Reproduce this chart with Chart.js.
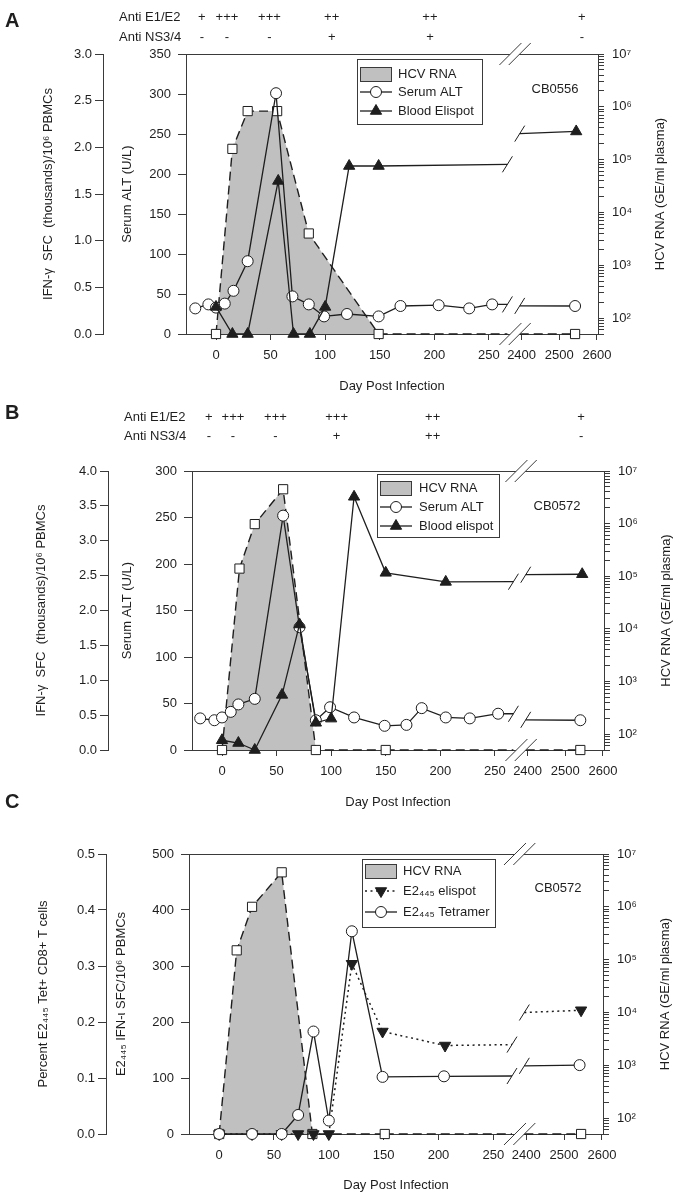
<!DOCTYPE html>
<html lang="en">
<head>
<meta charset="utf-8">
<title>HCV RNA, ALT and ELISPOT after infection</title>
<script src="https://cdn.jsdelivr.net/npm/chart.js@4.4.1/dist/chart.umd.min.js"></script>
<style>
  html, body { margin: 0; padding: 0; background: #fff; }
  body { position: relative; width: 681px; height: 1199px; overflow: hidden; }
  canvas { position: absolute; left: 0; }
</style>
</head>
<body>
<canvas id="chartA" width="681" height="400" style="top:0px"></canvas>
<canvas id="chartB" width="681" height="420" style="top:395px"></canvas>
<canvas id="chartC" width="681" height="414" style="top:785px"></canvas>
<script>
// x axis, day post infection (broken between day 267 and day 2395)
const xTickDays = [0, 50, 100, 150, 200, 250, 2400, 2500, 2600];
const xTickLabels = ['0', '50', '100', '150', '200', '250', '2400', '2500', '2600'];

// HCV RNA axis range (GE/ml plasma)
const rnaMin = 50;
const rnaMax = 1e7;

// Panel A - CB0556
const aRnaDays = [0, 15, 29, 56, 85, 149, 2542];
const aRnaValues = [50, 1.6e5, 8.3e5, 8.3e5, 4.0e3, 50, 50];
const aAltDays = [-19, -7, 0, 8, 16, 29, 55, 70, 85, 99, 120, 149, 169, 204, 232, 253, 2542];
const aAltValues = [32, 37, 33, 38, 54, 91, 301, 47, 37, 22, 25, 22, 35, 36, 32, 37, 35];
const aElispotDays = [0, 15, 29, 57, 71, 86, 100, 122, 149, 2545];
const aElispotValues = [0.29, 0, 0, 1.64, 0, 0, 0.29, 1.80, 1.80, 2.17];
const aAntiDays = [-13, 10, 49, 106, 196, 2560];
const aAntiE1E2 = ['+', '+++', '+++', '++', '++', '+'];
const aAntiNS34 = ['-', '-', '-', '+', '+', '-'];

// Panel B - CB0572
const bRnaDays = [0, 16, 30, 56, 86, 150, 2540];
const bRnaValues = [50, 1.4e5, 9.8e5, 4.5e6, 50, 50, 50];
const bAltDays = [-20, -7, 0, 8, 15, 30, 56, 71, 86, 99, 121, 149, 169, 183, 205, 227, 253, 2540];
const bAltValues = [34, 32, 35, 41, 49, 55, 252, 132, 32, 46, 35, 26, 27, 45, 35, 34, 39, 32];
const bElispotDays = [0, 15, 30, 55, 71, 86, 100, 121, 150, 205, 2545];
const bElispotValues = [0.14, 0.10, 0, 0.79, 1.80, 0.39, 0.45, 3.63, 2.54, 2.41, 2.52];
const bAntiDays = [-12, 10, 49, 105, 193, 2542];
const bAntiE1E2 = ['+', '+++', '+++', '+++', '++', '+'];
const bAntiNS34 = ['-', '-', '-', '+', '++', '-'];

// Panel C - CB0572, E2 445 epitope
const cRnaDays = [0, 16, 30, 57, 85, 151, 2545];
const cRnaValues = [50, 1.5e5, 1.0e6, 4.5e6, 50, 50, 50];
const cElispotDays = [0, 30, 57, 72, 86, 100, 121, 149, 206, 2545];
const cElispotValues = [0, 0, 0, 0, 0, 0, 304, 183, 158, 221];
const cTetDays = [0, 30, 57, 72, 86, 100, 121, 149, 205, 2541];
const cTetValues = [0, 0, 0, 0.034, 0.183, 0.024, 0.362, 0.102, 0.103, 0.123];

const FONT = "'Liberation Sans', Arial, Helvetica, sans-serif";
const INK = '#1e1e1e';
const AXIS = '#3a3a3a';
const GREY = '#c0c0c0';

Chart.defaults.font.family = FONT;
Chart.defaults.font.size = 13;
Chart.defaults.color = INK;

// broken axis: days up to BREAK_LO plotted as-is, late days squeezed after the gap
const BREAK_LO = 267;
const BREAK_HI = 2395;
function toAxis(day) {
  return day <= BREAK_LO ? day : 280 + (day - 2400) * 0.345;
}
function crossesBreak(days, i, j) {
  return days[i] <= BREAK_LO && days[j] >= BREAK_HI;
}

const SUP = '⁰¹²³⁴⁵⁶⁷⁸⁹';
function powerLabel(v) {
  const e = Math.log10(v);
  if (Math.abs(e - Math.round(e)) > 1e-9) return '';
  return '10' + String(Math.round(e)).split('').map(c => SUP[+c]).join('');
}

function series(label, days, values, axis, style) {
  return Object.assign({
    label: label,
    days: days,
    yAxisID: axis,
    data: days.map((d, i) => ({ x: toAxis(d), y: values[i] })),
    borderColor: INK,
    borderWidth: 1.3,
    borderDash: [],
    pointBorderColor: INK,
    pointBorderWidth: 1,
    pointBackgroundColor: '#fff',
    fill: false,
    clip: false,
    tension: 0,
    segment: {
      borderColor: c => crossesBreak(days, c.p0DataIndex, c.p1DataIndex) ? 'rgba(0,0,0,0)' : undefined
    }
  }, style);
}

const rnaStyle = { fill: 'start', backgroundColor: GREY, borderDash: [9, 5], borderWidth: 1.4,
  pointStyle: 'rect', pointRadius: 6.5, order: 2, breakMarks: false };
const circleStyle = { pointStyle: 'circle', pointRadius: 5.5, order: 1 };
const triStyle = { pointStyle: 'triangle', pointRadius: 6.5, pointBackgroundColor: INK, order: 0 };

// line pieces either side of the break, linear in real days
function drawBrokenSegments(chart) {
  const ctx = chart.ctx;
  chart.data.datasets.forEach((ds, di) => {
    const meta = chart.getDatasetMeta(di);
    const days = ds.days;
    for (let i = 0; i < days.length - 1; i++) {
      if (!crossesBreak(days, i, i + 1)) continue;
      const d0 = days[i], d1 = days[i + 1];
      const v0 = ds.data[i].y, v1 = ds.data[i + 1].y;
      const at = d => v0 + (v1 - v0) * (d - d0) / (d1 - d0);
      const xs = meta.xScale, ys = meta.yScale;
      const p0 = meta.data[i], p1 = meta.data[i + 1];
      const lo = { x: xs.getPixelForValue(toAxis(BREAK_LO)), y: ys.getPixelForValue(at(BREAK_LO)) };
      const hi = { x: xs.getPixelForValue(toAxis(BREAK_HI)), y: ys.getPixelForValue(at(BREAK_HI)) };
      ctx.save();
      ctx.strokeStyle = ds.borderColor;
      ctx.lineWidth = ds.borderWidth;
      ctx.setLineDash(ds.borderDash || []);
      ctx.beginPath();
      ctx.moveTo(p0.x, p0.y); ctx.lineTo(lo.x, lo.y);
      ctx.moveTo(hi.x, hi.y); ctx.lineTo(p1.x, p1.y);
      ctx.stroke();
      if (ds.breakMarks !== false) {
        ctx.setLineDash([]);
        ctx.lineWidth = 1;
        [lo, hi].forEach(q => {
          ctx.beginPath(); ctx.moveTo(q.x - 5, q.y + 8); ctx.lineTo(q.x + 5, q.y - 8); ctx.stroke();
        });
      }
      ctx.restore();
    }
  });
}

function drawAxisBreak(ctx, xa, xb, y) {
  ctx.save();
  ctx.fillStyle = '#fff';
  ctx.beginPath();
  ctx.moveTo(xa - 3, y + 3); ctx.lineTo(xa + 3, y - 3);
  ctx.lineTo(xb + 3, y - 3); ctx.lineTo(xb - 3, y + 3);
  ctx.closePath(); ctx.fill();
  ctx.strokeStyle = AXIS; ctx.lineWidth = 1;
  [xa, xb].forEach(x => {
    ctx.beginPath(); ctx.moveTo(x - 11, y + 11); ctx.lineTo(x + 11, y - 11); ctx.stroke();
  });
  ctx.restore();
}

function decor(p) {
  return {
    id: 'decor' + p.letter,
    beforeDatasetsDraw(chart) {
      const { ctx, chartArea: a } = chart;
      ctx.save();
      ctx.strokeStyle = AXIS; ctx.lineWidth = 1;
      ctx.beginPath(); ctx.moveTo(a.left, a.top + 0.5); ctx.lineTo(a.right, a.top + 0.5); ctx.stroke();
      ctx.restore();
      drawBrokenSegments(chart);
    },
    afterDatasetsDraw(chart) {
      const { ctx, chartArea: a } = chart;
      const lg = p.legend;
      const L = a.left + lg.dx, T = a.top + lg.dy;
      ctx.save();
      ctx.fillStyle = '#fff';
      ctx.fillRect(L, T, lg.w, lg.h);
      ctx.strokeStyle = AXIS; ctx.lineWidth = 1;
      ctx.strokeRect(L + 0.5, T + 0.5, lg.w, lg.h);
      ctx.font = '13px ' + FONT;
      ctx.textBaseline = 'middle';
      chart.data.datasets.forEach((ds, i) => {
        const y = T + lg.rows[i];
        const x0 = L + 3, x1 = L + 35;
        if (ds.fill) {
          ctx.fillStyle = ds.backgroundColor;
          ctx.fillRect(x0, y - 7, x1 - x0, 15);
          ctx.strokeStyle = AXIS;
          ctx.strokeRect(x0 + 0.5, y - 6.5, x1 - x0 - 1, 14);
        } else {
          ctx.strokeStyle = ds.borderColor; ctx.lineWidth = ds.borderWidth;
          ctx.setLineDash(ds.borderDash || []);
          ctx.beginPath(); ctx.moveTo(x0, y); ctx.lineTo(x1, y); ctx.stroke();
          ctx.setLineDash([]);
          ctx.fillStyle = ds.pointBackgroundColor; ctx.strokeStyle = ds.pointBorderColor; ctx.lineWidth = 1;
          Chart.helpers.drawPoint(ctx, { pointStyle: ds.pointStyle, rotation: ds.pointRotation || 0,
            radius: ds.pointRadius, borderWidth: 1 }, (x0 + x1) / 2, y);
        }
        ctx.fillStyle = INK;
        ctx.textAlign = 'left';
        ctx.fillText(ds.label, L + lg.text, y);
      });
      ctx.textAlign = 'center';
      ctx.fillText(p.sample, a.right + p.cbDx, a.top + p.cbDy);
      ctx.restore();
    },
    afterDraw(chart) {
      const { ctx, chartArea: a } = chart;
      const xs = chart.scales.x;
      ctx.save();
      ctx.fillStyle = INK;
      ctx.font = 'bold 20px ' + FONT;
      ctx.textBaseline = 'middle';
      ctx.textAlign = 'left';
      ctx.fillText(p.letter, 5, p.letterY);
      ctx.font = '13px ' + FONT;
      if (p.anti) {
        const an = p.anti;
        ctx.fillText('Anti E1/E2', an.x, an.y1);
        ctx.fillText('Anti NS3/4', an.x, an.y2);
        ctx.textAlign = 'center';
        an.days.forEach((d, i) => {
          const x = xs.getPixelForValue(toAxis(d));
          ctx.fillText(an.row1[i], x, an.y1);
          ctx.fillText(an.row2[i], x, an.y2);
        });
      }
      ctx.translate(a.right + 62, (a.top + a.bottom) / 2);
      ctx.rotate(-Math.PI / 2);
      ctx.textAlign = 'center';
      ctx.fillText('HCV RNA (GE/ml plasma)', 0, 0);
      ctx.restore();
      const xa = xs.getPixelForValue(toAxis(BREAK_LO)) + 3;
      const xb = xs.getPixelForValue(toAxis(BREAK_HI));
      drawAxisBreak(ctx, xa, xb, a.bottom);
      drawAxisBreak(ctx, xa, xb, a.top);
    }
  };
}

function makePanel(p) {
  return new Chart(document.getElementById(p.canvas), {
    type: 'line',
    data: { datasets: p.series },
    options: {
      responsive: false,
      animation: false,
      events: [],
      layout: { padding: { top: p.padTop, left: 0, right: 0, bottom: 0 } },
      plugins: { legend: { display: false }, tooltip: { enabled: false } },
      scales: {
        x: {
          type: 'linear', min: -27.5, max: 350,
          afterBuildTicks: s => { s.ticks = xTickDays.map(d => ({ value: toAxis(d) })); },
          afterFit: s => { s.height = p.xAxisHeight; },
          ticks: { autoSkip: false, maxRotation: 0, padding: 8, callback: (v, i) => xTickLabels[i] },
          grid: { drawOnChartArea: false, tickLength: 6, color: AXIS },
          border: { color: AXIS, width: 1 },
          title: { display: true, text: 'Day Post Infection', padding: { top: 0, bottom: p.xTitlePad } }
        },
        yOut: {
          type: 'linear', position: 'left', weight: 1, min: 0, max: p.outerMax,
          afterFit: s => { s.width = p.outerX; },
          ticks: { stepSize: p.outerStep, padding: 3, callback: v => Number(v).toFixed(1) },
          grid: { drawOnChartArea: false, tickLength: 8, color: AXIS },
          border: { color: AXIS, width: 1 },
          title: { display: true, text: p.outerTitle, padding: { top: p.outerTitlePad, bottom: 0 } }
        },
        yAlt: {
          type: 'linear', position: 'left', weight: 0, min: 0, max: p.innerMax,
          afterFit: s => { s.width = p.innerX - p.outerX; },
          ticks: { stepSize: p.innerStep, padding: 7 },
          grid: { drawOnChartArea: false, tickLength: 8, color: AXIS },
          border: { color: AXIS, width: 1 },
          title: { display: true, text: p.innerTitle, padding: { top: p.innerTitlePad, bottom: 0 } }
        },
        yLog: {
          type: 'logarithmic', position: 'right', min: rnaMin, max: rnaMax,
          afterBuildTicks: s => {
            s.ticks = s.ticks.filter(t => {
              const m = t.value / Math.pow(10, Math.floor(Math.log10(t.value) + 1e-9));
              return Math.abs(m - Math.round(m)) < 1e-6;
            });
          },
          afterFit: s => { s.width = 681 - p.rightX; },
          ticks: { autoSkip: false, padding: 8, callback: v => powerLabel(v) },
          grid: { drawOnChartArea: false, tickLength: 6, color: AXIS },
          border: { color: AXIS, width: 1 },
          title: { display: false }
        }
      }
    },
    plugins: [decor(p)]
  });
}

makePanel({
  canvas: 'chartA', letter: 'A', letterY: 21,
  padTop: 54, outerX: 103, innerX: 186, rightX: 598, xAxisHeight: 66, xTitlePad: 6,
  outerMax: 3, outerStep: 0.5, outerTitle: 'IFN-γ  SFC  (thousands)/10⁶ PBMCs', outerTitlePad: 41,
  innerMax: 350, innerStep: 50, innerTitle: 'Serum ALT (U/L)', innerTitlePad: 17,
  anti: { x: 119, y1: 17, y2: 37, days: aAntiDays, row1: aAntiE1E2, row2: aAntiNS34 },
  legend: { dx: 171, dy: 5, w: 125, h: 65, rows: [15, 33, 52], text: 41 },
  sample: 'CB0556', cbDx: -43, cbDy: 35,
  series: [
    series('HCV RNA', aRnaDays, aRnaValues, 'yLog', rnaStyle),
    series('Serum ALT', aAltDays, aAltValues, 'yAlt', circleStyle),
    series('Blood Elispot', aElispotDays, aElispotValues, 'yOut', triStyle)
  ]
});

makePanel({
  canvas: 'chartB', letter: 'B', letterY: 18,
  padTop: 76, outerX: 108, innerX: 192, rightX: 604, xAxisHeight: 65, xTitlePad: 5,
  outerMax: 4, outerStep: 0.5, outerTitle: 'IFN-γ  SFC  (thousands)/10⁶ PBMCs', outerTitlePad: 34,
  innerMax: 300, innerStep: 50, innerTitle: 'Serum ALT (U/L)', innerTitlePad: 12,
  anti: { x: 124, y1: 22, y2: 41, days: bAntiDays, row1: bAntiE1E2, row2: bAntiNS34 },
  legend: { dx: 185, dy: 3, w: 122, h: 63, rows: [14, 33, 52], text: 42 },
  sample: 'CB0572', cbDx: -47, cbDy: 35,
  series: [
    series('HCV RNA', bRnaDays, bRnaValues, 'yLog', rnaStyle),
    series('Serum ALT', bAltDays, bAltValues, 'yAlt', circleStyle),
    series('Blood elispot', bElispotDays, bElispotValues, 'yOut', triStyle)
  ]
});

makePanel({
  canvas: 'chartC', letter: 'C', letterY: 17,
  padTop: 69, outerX: 106, innerX: 189, rightX: 603, xAxisHeight: 65, xTitlePad: 6,
  outerMax: 0.5, outerStep: 0.1, outerTitle: 'Percent E2₄₄₅ Tet+ CD8+ T cells', outerTitlePad: 36,
  innerMax: 500, innerStep: 100, innerTitle: 'E2₄₄₅ IFN-ι SFC/10⁶ PBMCs', innerTitlePad: 8,
  anti: null,
  legend: { dx: 173, dy: 5, w: 133, h: 68, rows: [12, 32, 53], text: 41 },
  sample: 'CB0572', cbDx: -45, cbDy: 34,
  series: [
    series('HCV RNA', cRnaDays, cRnaValues, 'yLog', rnaStyle),
    series('E2₄₄₅ elispot', cElispotDays, cElispotValues, 'yAlt',
      { pointStyle: 'triangle', pointRotation: 180, pointRadius: 6.5, pointBackgroundColor: INK,
        borderDash: [2, 3.5], borderWidth: 1.5, order: 1 }),
    series('E2₄₄₅ Tetramer', cTetDays, cTetValues, 'yOut', { pointStyle: 'circle', pointRadius: 5.5, order: 0 })
  ]
});
</script>
</body>
</html>
